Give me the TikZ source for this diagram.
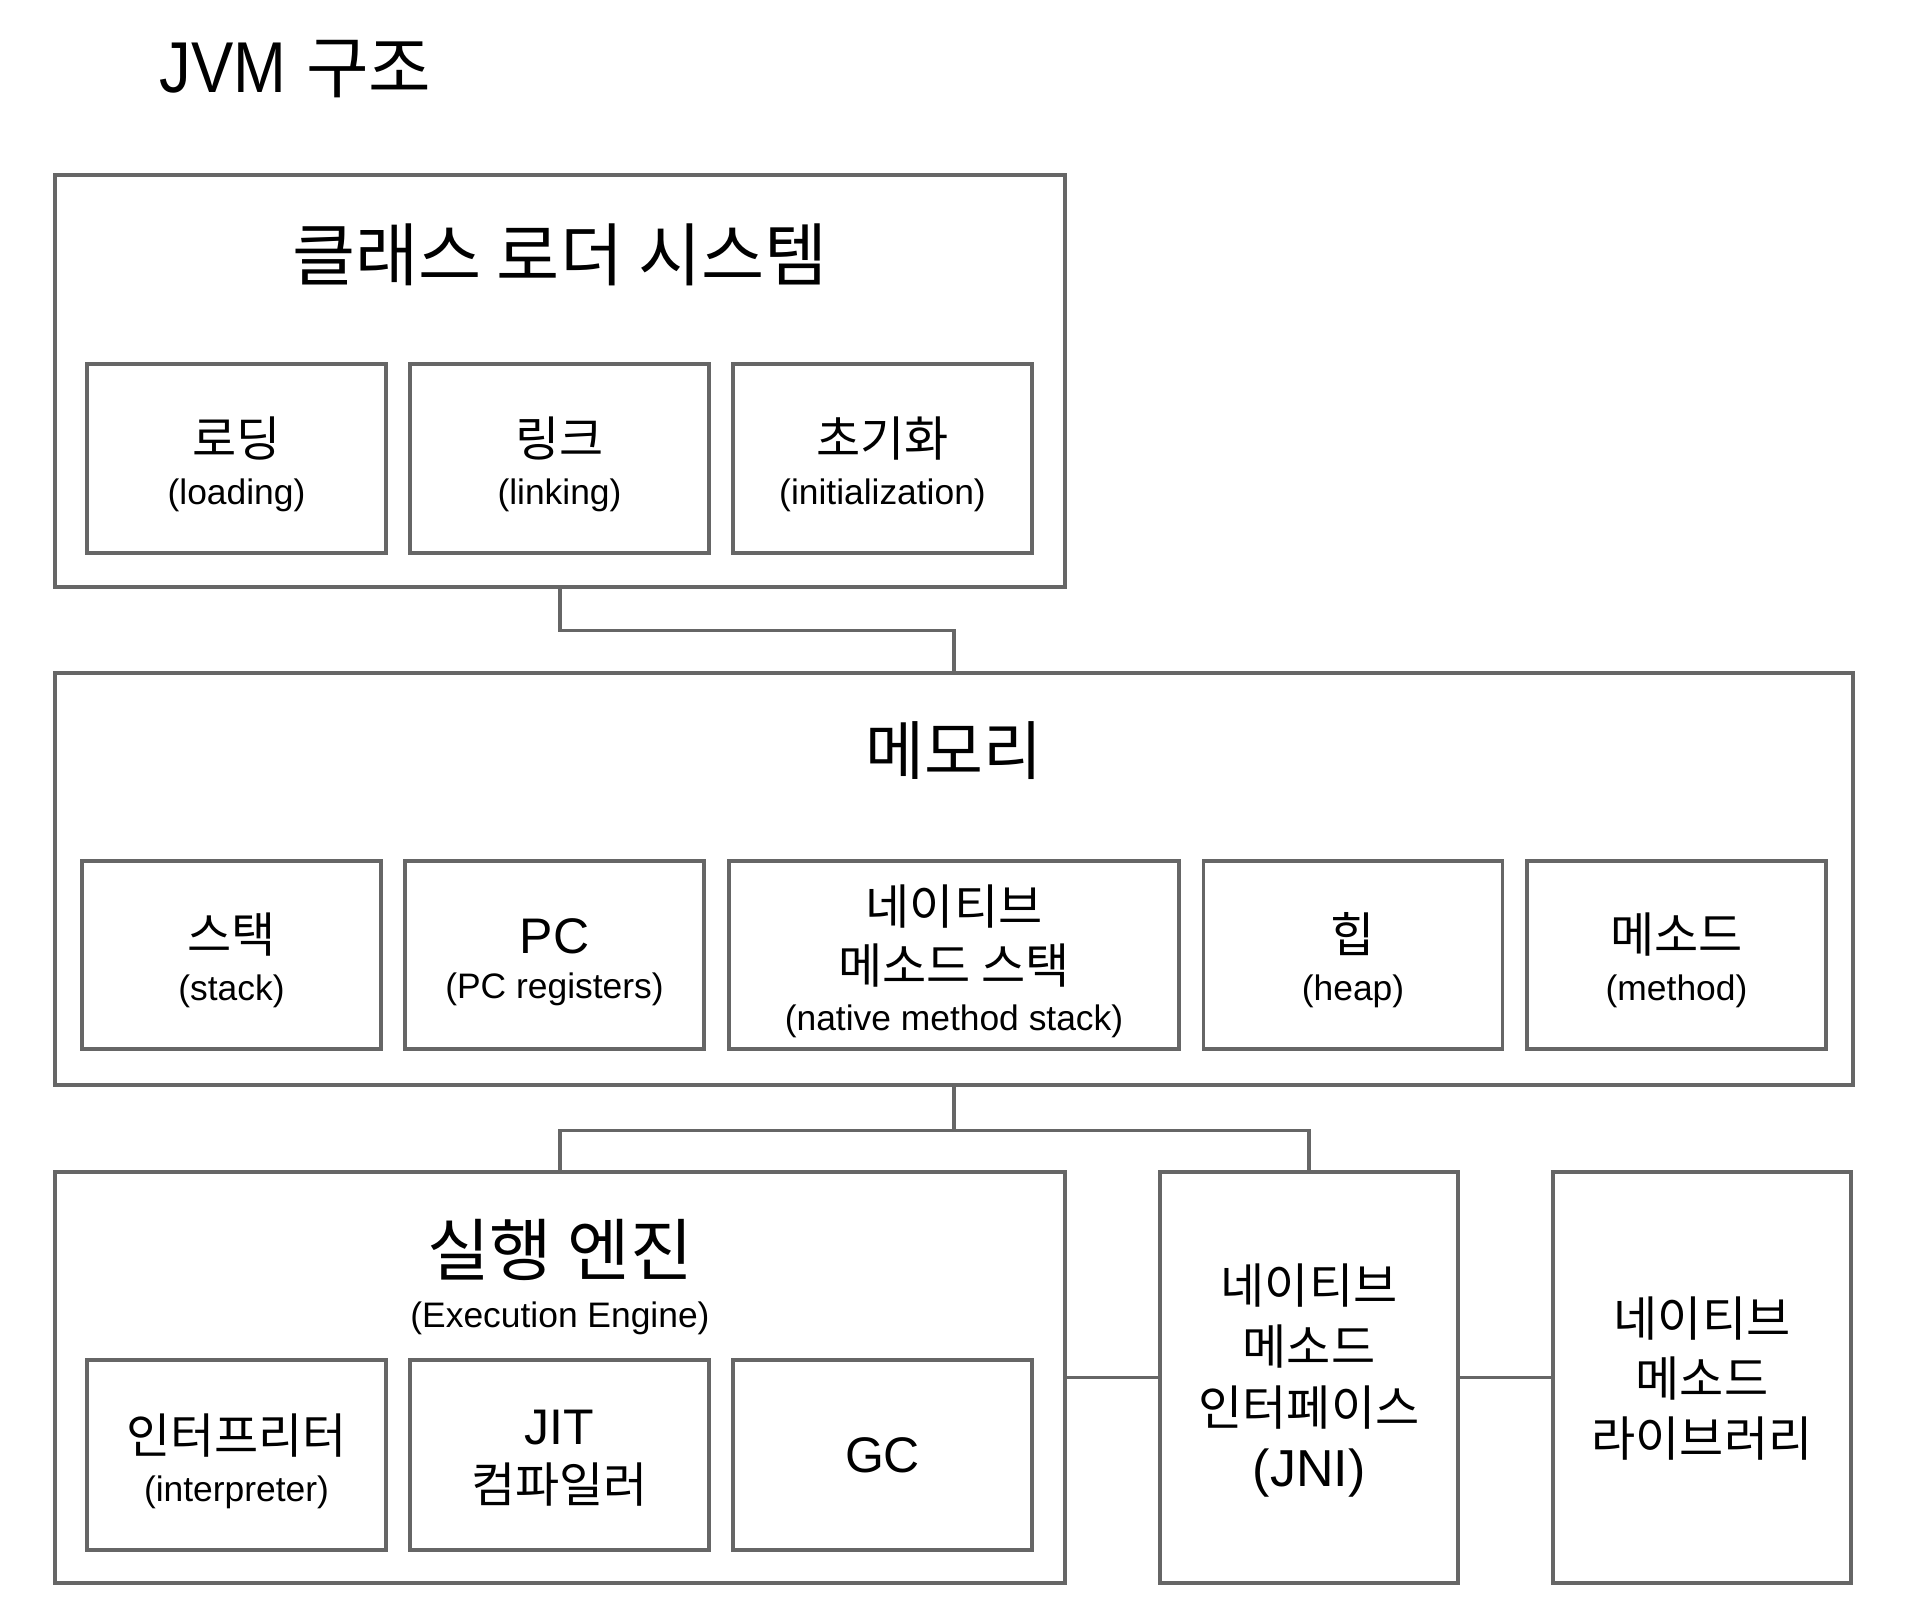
\documentclass[tikz,border=0pt]{standalone}
\usepackage{fontspec}
\setmainfont{Liberation Sans}
\newfontfamily\kr{Noto Sans CJK KR}
\newfontfamily\titlefont[FakeStretch=0.88]{Liberation Sans}
\usetikzlibrary{calc}
\definecolor{lc}{HTML}{666666}
\newcommand\kor[2]{{\kr\fontsize{#1}{#1}\selectfont #2}}
\newcommand\lat[2]{{\fontsize{#1}{#1}\selectfont #2}}
\begin{document}
\begin{tikzpicture}[x=0.5pt,y=-0.5pt,
  box/.style={draw=lc, line width=1.6pt, rectangle, inner sep=0pt},
  subbox/.style={box, minimum width=149.5pt, minimum height=94.5pt},
  tallbox/.style={box, minimum width=149pt, minimum height=205.5pt},
  txt/.style={inner sep=0pt, align=center, text=black},
  conn/.style={draw=lc, line width=1.6pt},
]
\useasboundingbox (0,0) rectangle (1920,1613);
\fill[white] (0,0) rectangle (1920,1613);

% title
\node[inner sep=0pt, anchor=base west] (title) at (159,92) {\titlefont\fontsize{36}{36}\selectfont JVM\hspace{10pt}\kor{34}{구조}};

% class loader system
\node[box, minimum width=505pt, minimum height=206pt] (loader) at (560,381) {};
\node[txt] (loadert) at (560,255) {\kor{34.3}{클래스 로더 시스템}};
\node[subbox] (load) at (236.5,458.5) {};
\node[subbox] (link) at (559.5,458.5) {};
\node[subbox] (init) at (882.5,458.5) {};
\node[txt, font=\fontsize{17.7}{24}\selectfont] (loadtx) at (236.5,464) {\kor{24}{로딩}\\(loading)};
\node[txt, font=\fontsize{17.7}{24}\selectfont] (linktx) at (559.5,464) {\kor{24}{링크}\\(linking)};
\node[txt, font=\fontsize{17.7}{24}\selectfont] (inittx) at (882.5,464) {\kor{24}{초기화}\\(initialization)};

% memory
\node[box, minimum width=899pt, minimum height=206pt] (memory) at (954,879) {};
\node[txt] (memt) at (954,751) {\kor{32}{메모리}};
\node[subbox, minimum height=94pt] (stack) at (231.5,955) {};
\node[subbox, minimum height=94pt] (pc) at (554.5,955) {};
\node[subbox, minimum width=225pt, minimum height=94pt] (native) at (954,955) {};
\node[subbox, minimum height=94pt] (heap) at (1353,955) {};
\node[subbox, minimum height=94pt] (method) at (1676.5,955) {};
\node[txt, font=\fontsize{17.7}{24}\selectfont] (stacktx) at (231.5,960) {\kor{24}{스택}\\(stack)};
\node[txt, font=\fontsize{17.7}{22.8}\selectfont] (pctx) at (554.5,962) {\lat{25}{PC}\\(PC registers)};
\node[txt, font=\fontsize{17.7}{23.5}\selectfont] (nativetx) at (954,961) {\kor{24}{네이티브}\\[6pt]\kor{24}{메소드 스택}\\(native method stack)};
\node[txt, font=\fontsize{17.7}{24}\selectfont] (heaptx) at (1353,960) {\kor{24}{힙}\\(heap)};
\node[txt, font=\fontsize{17.7}{24}\selectfont] (methodtx) at (1676.5,960) {\kor{24}{메소드}\\(method)};

% execution engine
\node[box, minimum width=505pt, minimum height=205.5pt] (exec) at (560,1377.5) {};
\node[txt] (exect) at (560,1250) {\kor{34}{실행 엔진}};
\node[txt] (execen) at (560,1318.5) {\lat{17.7}{(Execution Engine)}};
\node[subbox, minimum height=95pt] (interp) at (236.5,1455) {};
\node[subbox, minimum height=95pt] (jit) at (559.5,1455) {};
\node[subbox, minimum height=95pt] (gc) at (882.5,1455) {};
\node[txt, font=\fontsize{17.7}{24}\selectfont] (interptx) at (236.5,1461) {\kor{24}{인터프리터}\\(interpreter)};
\node[txt, font=\fontsize{25}{29}\selectfont] (jittx) at (559.5,1458) {JIT\\\kor{24}{컴파일러}};
\node[txt] (gctx) at (882.5,1455) {\lat{25}{GC}};

% JNI and native library
\node[tallbox] (jni) at (1309,1377.5) {};
\node[tallbox] (lib) at (1702,1377.5) {};
\node[txt, font=\fontsize{26}{30.5}\selectfont] (jnitx) at (1309,1381) {\kor{24}{네이티브}\\\kor{24}{메소드}\\\kor{24}{인터페이스}\\(JNI)};
\node[txt, font=\fontsize{24}{30}\selectfont] (libtx) at (1702,1378.5) {\kor{24}{네이티브}\\\kor{24}{메소드}\\\kor{24}{라이브러리}};

% connectors
\draw[conn] (loader.south) -- ++(0,42) -| (memory.north);
\draw[conn] (memory.south) -- ++(0,44) coordinate (jn);
\draw[conn] (exec.north) |- (jn) -| (jni.north);
\draw[conn] (exec.east) -- (jni.west);
\draw[conn] (jni.east) -- (lib.west);
\end{tikzpicture}
\end{document}
